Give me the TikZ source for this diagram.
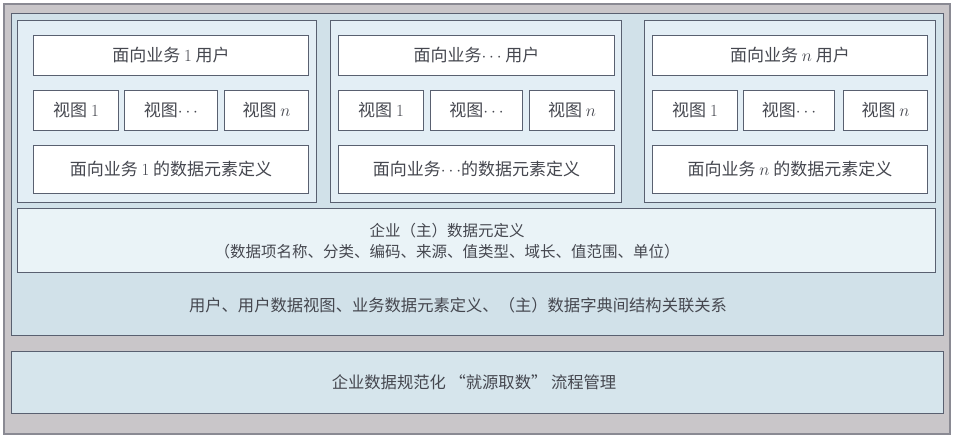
\documentclass[tikz,border=0pt]{standalone}
\usepackage{fontspec}
\newfontfamily\cjk{Noto Sans CJK SC}

\definecolor{framefill}{HTML}{C9C6C9}
\definecolor{frameline}{HTML}{8A8A93}
\definecolor{secfill}{HTML}{D1E1E9}
\definecolor{grpfill}{HTML}{E3EEF5}
\definecolor{elemfill}{HTML}{EAF3F7}
\definecolor{flowfill}{HTML}{D6E5EC}
\definecolor{boxline}{HTML}{596070}
\definecolor{txt}{HTML}{45474F}

\tikzset{
	grp/.style={draw=boxline, fill=grpfill, line width=1pt, anchor=north west, inner sep=0pt},
	wbox/.style={draw=boxline, fill=white, line width=1pt, anchor=north west, inner sep=0pt,
		minimum height=40pt, font=\cjk\fontsize{17}{20}\selectfont, text=txt},
	label/.style={font=\cjk\fontsize{15.5}{21}\selectfont, text=txt, align=center, inner sep=0pt},
	biglabel/.style={label, font=\cjk\fontsize{16.3}{21}\selectfont},
}

\begin{document}
\begin{tikzpicture}[x=1pt,y=-1pt]
	\useasboundingbox (0,0) rectangle (953,437);
	\node[draw=frameline, fill=framefill, line width=1.5pt, anchor=north west, inner sep=0pt,
		minimum width=946pt, minimum height=430pt] (frame) at (3,3) {};
	\node[draw=boxline, fill=secfill, line width=1.2pt, anchor=north west, inner sep=0pt,
		minimum width=932pt, minimum height=322pt] (sec) at (11,13) {};
	\node[draw=boxline, fill=flowfill, line width=1.2pt, anchor=north west, inner sep=0pt,
		minimum width=932pt, minimum height=62pt] (flow) at (11,351) {};

	% business 1
	\node[grp, minimum width=299pt, minimum height=182pt] (g1) at (17,20) {};
	\node[wbox, minimum width=275pt] (u1) at (33,35) {面向业务 \textrm{1} 用户};
	\node[wbox, minimum width=85pt] (v11) at (33,90) {视图 \textrm{1}};
	\node[wbox, minimum width=93pt] (v12) at (124,90) {视图$\cdots$};
	\node[wbox, minimum width=84pt] (v13) at (224,90) {视图 $n$};
	\node[wbox, minimum width=275pt, minimum height=48pt] (d1) at (33,145) {面向业务 \textrm{1} 的数据元素定义};

	% business ...
	\node[grp, minimum width=291pt, minimum height=182pt] (g2) at (330,20) {};
	\node[wbox, minimum width=276pt] (u2) at (338,35) {面向业务$\cdots$ 用户};
	\node[wbox, minimum width=85pt] (v21) at (338,90) {视图 \textrm{1}};
	\node[wbox, minimum width=92pt] (v22) at (430,90) {视图$\cdots$};
	\node[wbox, minimum width=85pt] (v23) at (529,90) {视图 $n$};
	\node[wbox, minimum width=276pt, minimum height=48pt] (d2) at (338,145) {面向业务$\cdots$的数据元素定义};

	% business n
	\node[grp, minimum width=291pt, minimum height=182pt] (g3) at (644,20) {};
	\node[wbox, minimum width=275pt] (u3) at (652,35) {面向业务 $n$ 用户};
	\node[wbox, minimum width=85pt] (v31) at (652,90) {视图 \textrm{1}};
	\node[wbox, minimum width=91pt] (v32) at (743,90) {视图$\cdots$};
	\node[wbox, minimum width=84pt] (v33) at (843,90) {视图 $n$};
	\node[wbox, minimum width=275pt, minimum height=48pt] (d3) at (652,145) {面向业务 $n$ 的数据元素定义};

	% master data
	\node[draw=boxline, fill=elemfill, line width=1pt, anchor=north west, inner sep=0pt,
		minimum width=918pt, minimum height=64pt] (elem) at (17,208) {};
	\node[label] (elemtxt) at (447,241) {企业（主）数据元定义\\（数据项名称、分类、编码、来源、值类型、域长、值范围、单位）};

	\node[biglabel] (rel) at (458,305) {用户、用户数据视图、业务数据元素定义、（主）数据字典间结构关联关系};
	\node[biglabel] (flowtxt) at (474,382) {企业数据规范化 “就源取数” 流程管理};
\end{tikzpicture}
\end{document}
